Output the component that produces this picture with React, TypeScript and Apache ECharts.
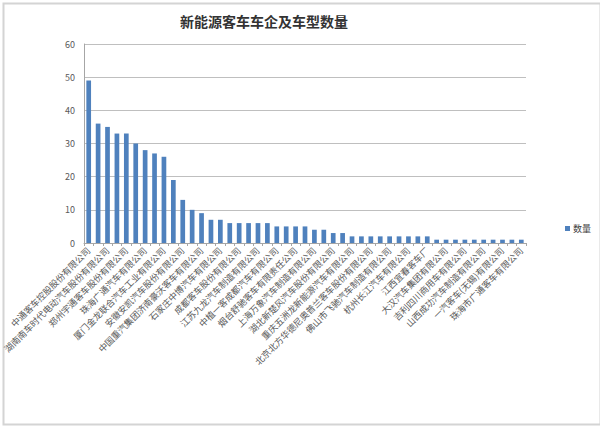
import React, { useEffect, useRef } from "react";
import * as echarts from "echarts";

const titleText = "新能源客车车企及车型数量";
const seriesName = "数量";

const companies: string[] = [
  "中通客车控股股份有限公司", "",
  "湖南南车时代电动汽车股份有限公司", "",
  "郑州宇通客车股份有限公司", "",
  "珠海广通汽车有限公司", "",
  "厦门金龙联合汽车工业有限公司", "",
  "安徽安凯汽车股份有限公司", "",
  "中国重汽集团济南豪沃客车有限公司", "",
  "石家庄中博汽车有限公司", "",
  "成都客车股份有限公司", "",
  "江苏九龙汽车制造有限公司", "",
  "中植一客成都汽车有限公司", "",
  "烟台舒驰客车有限责任公司", "",
  "上海万象汽车制造有限公司", "",
  "湖北新楚风汽车股份有限公司", "",
  "重庆五洲龙新能源汽车有限公司", "",
  "北京北方华德尼奥普兰客车股份有限公司", "",
  "佛山市飞驰汽车制造有限公司", "",
  "杭州长江汽车有限公司", "",
  "江西宜春客车厂", "",
  "大汉汽车集团有限公司", "",
  "吉利四川商用车有限公司", "",
  "山西成功汽车制造有限公司", "",
  "一汽客车(无锡)有限公司", "",
  "珠海市广通客车有限公司",
];

const counts: number[] = [
  49, 36, 35, 33, 33, 30, 28, 27, 26, 19,
  13, 10, 9, 7, 7, 6, 6, 6, 6, 6,
  5, 5, 5, 5, 4, 4, 3, 3, 2, 2,
  2, 2, 2, 2, 2, 2, 2, 1, 1, 1,
  1, 1, 1, 1, 1, 1, 1,
];

const yMin = 0;
const yMax = 60;
const yStep = 10;

export default function App() {
  const ref = useRef<HTMLDivElement>(null);

  useEffect(() => {
    if (!ref.current) return;
    const chart = echarts.init(ref.current, undefined, { renderer: "svg" });
    const font = "'Noto Sans CJK SC', 'Noto Sans', sans-serif";
    chart.setOption({
      animation: false,
      backgroundColor: "#ffffff",
      textStyle: { fontFamily: font },
      graphic: [
        {
          type: "rect",
          left: 1,
          top: 1,
          shape: { x: 0, y: 0, width: 597, height: 421 },
          style: { fill: "none", stroke: "#d4d4d4", lineWidth: 2 },
          silent: true,
          z: -1,
        },
      ],
      title: {
        text: titleText,
        left: 175,
        top: 9,
        textStyle: {
          fontSize: 14,
          fontWeight: "bold",
          color: "#333333",
          fontFamily: font,
        },
      },
      legend: {
        data: [seriesName],
        left: 560,
        top: 219,
        itemWidth: 5,
        itemHeight: 5,
        itemGap: 2,
        icon: "rect",
        textStyle: { fontSize: 9, color: "#404040", padding: [0, 0, 0, -2] },
      },
      grid: {
        left: 84,
        right: 74,
        top: 44,
        bottom: 183,
        containLabel: false,
      },
      xAxis: {
        type: "category",
        data: companies,
        boundaryGap: true,
        axisLine: { show: true, lineStyle: { color: "#a6a6a6", width: 1 } },
        axisTick: {
          show: true,
          interval: 0,
          length: 3,
          lineStyle: { color: "#a6a6a6" },
        },
        axisLabel: {
          interval: 0,
          rotate: 45,
          fontSize: 9,
          color: "#595959",
          margin: 6,
        },
      },
      yAxis: {
        type: "value",
        min: yMin,
        max: yMax,
        interval: yStep,
        axisLine: { show: true, lineStyle: { color: "#a6a6a6", width: 1 } },
        axisTick: { show: false },
        axisLabel: { fontSize: 9, color: "#595959", margin: 9 },
        splitLine: { show: true, lineStyle: { color: "#bfbfbf", width: 1 } },
      },
      series: [
        {
          name: seriesName,
          type: "bar",
          data: counts,
          barWidth: "50%",
          itemStyle: { color: "#4f81bd" },
        },
      ],
    });
    return () => chart.dispose();
  }, []);

  return (
    <div
      ref={ref}
      style={{ position: "fixed", left: 0, top: 0, width: 600, height: 426, background: "#ffffff" }}
    />
  );
}
